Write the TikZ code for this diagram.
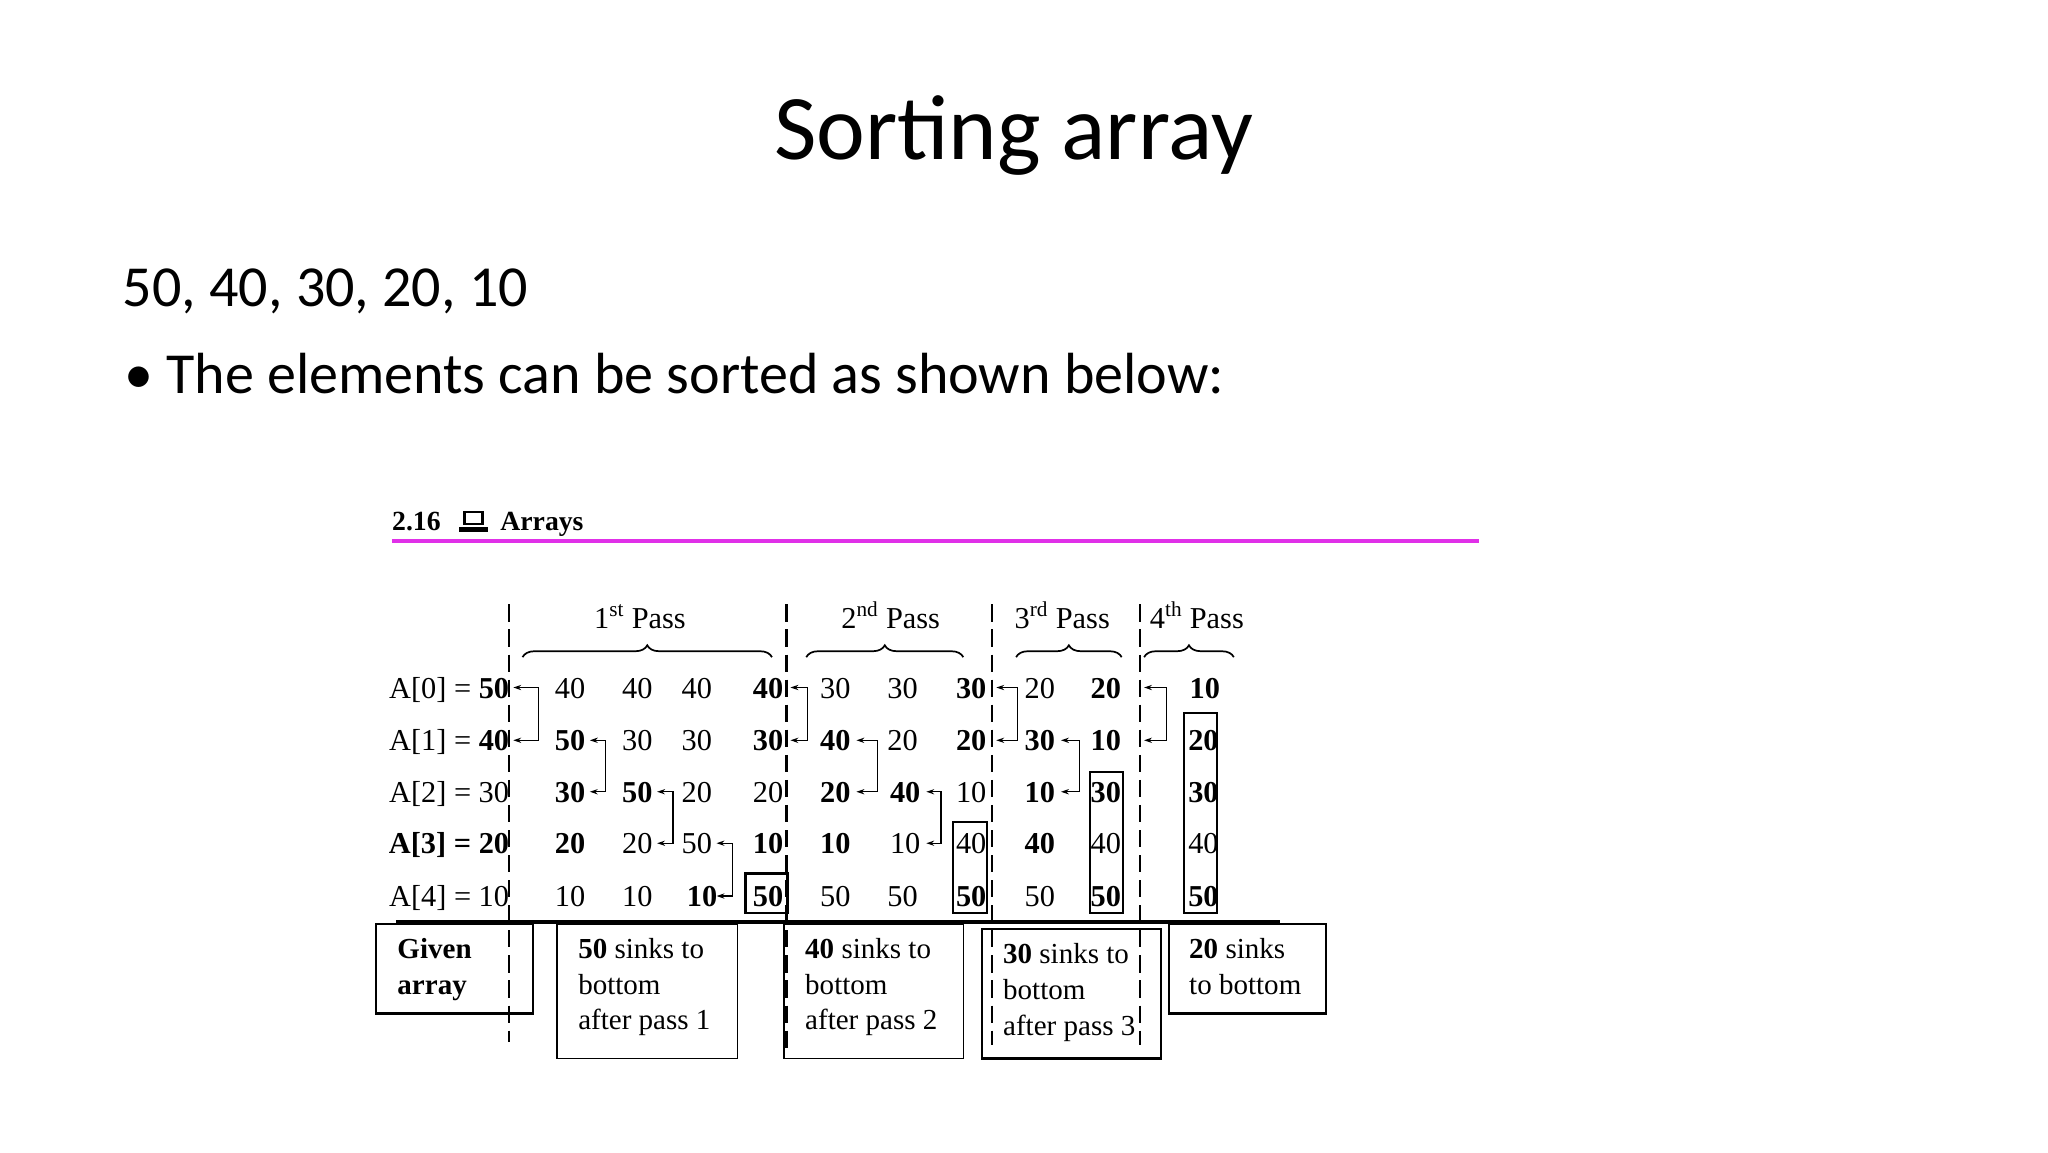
\documentclass[tikz,border=0pt]{standalone}
\usepackage{fontspec}
\setmainfont{Liberation Serif}
\newfontfamily\slidefont{Carlito}
\usetikzlibrary{arrows.meta,decorations.pathreplacing}
\definecolor{mag}{HTML}{E030E8}
\begin{document}
\begin{tikzpicture}[x=1pt,y=-1pt,
  num/.style={font=\fontsize{23}{23}\selectfont,inner sep=0pt,anchor=base},
  lab/.style={font=\fontsize{23}{23}\selectfont,inner sep=0pt,anchor=base east},
  dsh/.style={line width=1.6pt,dash pattern=on 13pt off 6pt},
  sw/.style={line width=1pt,{Stealth[length=6pt,width=4pt]}-{Stealth[length=6pt,width=4pt]}},
  bx/.style={draw,line width=1.2pt},
  brc/.style={decorate,decoration={brace,amplitude=9pt},line width=1.3pt},
  desc/.style={font=\fontsize{22}{27}\selectfont,align=left,anchor=north west,inner sep=0pt}]
\useasboundingbox (0,0) rectangle (1552,873);
% slide text
\node[font=\slidefont\fontsize{70}{70}\selectfont,inner sep=0pt] (title) at (768,103) {Sorting array};
\node[font=\slidefont\fontsize{44}{44}\selectfont,anchor=base west,inner sep=0pt] (seq) at (93,232) {50, 40, 30, 20, 10};
\node[font=\slidefont\fontsize{44}{44}\selectfont,anchor=base west,inner sep=0pt] (bul) at (94,298) {\textbullet\ The elements can be sorted as shown below:};
% header
\node[font=\bfseries\fontsize{21}{21}\selectfont,anchor=base west,inner sep=0pt] (h1) at (297,402) {2.16};
\node[font=\bfseries\fontsize{21}{21}\selectfont,anchor=base west,inner sep=0pt] (h2) at (379,402) {Arrays};
\fill (351,387) rectangle (367,398);
\fill[white] (353.5,389) rectangle (364.5,396);
\fill (348,399.5) rectangle (370,403);
\draw[mag,line width=3pt] (297,410) -- (1121,410);
% dashed separators
\draw[dsh] (386,458) -- (386,790);
\draw[dsh] (596,458) -- (596,800);
\draw[dsh] (752,458) -- (752,792);
\draw[dsh] (864,458) -- (864,792);
% pass labels and braces
\node[num] (p1) at (485,476) {1\textsuperscript{st} Pass};
\node[num] (p2) at (675,476) {2\textsuperscript{nd} Pass};
\node[num] (p3) at (805,476) {3\textsuperscript{rd} Pass};
\node[num] (p4) at (907,476) {4\textsuperscript{th} Pass};
\draw[brc] (396,498) -- (585,498);
\draw[brc] (611,498) -- (730,498);
\draw[brc] (770,498) -- (850,498);
\draw[brc] (867,498) -- (935,498);
% row labels
\def\ya{529}\def\yb{569}\def\yc{608}\def\yd{647}\def\ye{687}
\node[lab] (l0) at (386,\ya) {A[0] = \textbf{50}};
\node[lab] (l1) at (386,\yb) {A[1] = \textbf{40}};
\node[lab] (l2) at (386,\yc) {A[2] = 30};
\node[lab] (l3) at (386,\yd) {\textbf{A[3] = 20}};
\node[lab] (l4) at (386,\ye) {A[4] = 10};
% pass 1
\node[num] at (432,\ya) {40}; \node[num] at (483,\ya) {40}; \node[num] at (528,\ya) {40}; \node[num] at (582,\ya) {\textbf{40}};
\node[num] at (432,\yb) {\textbf{50}}; \node[num] at (483,\yb) {30}; \node[num] at (528,\yb) {30}; \node[num] at (582,\yb) {\textbf{30}};
\node[num] at (432,\yc) {\textbf{30}}; \node[num] at (483,\yc) {\textbf{50}}; \node[num] at (528,\yc) {20}; \node[num] at (582,\yc) {20};
\node[num] at (432,\yd) {\textbf{20}}; \node[num] at (483,\yd) {20}; \node[num] at (528,\yd) {50}; \node[num] at (582,\yd) {\textbf{10}};
\node[num] at (432,\ye) {10}; \node[num] at (483,\ye) {10}; \node[num] at (532,\ye) {\textbf{10}}; \node[num] at (582,\ye) {\textbf{50}};
% pass 2
\node[num] at (633,\ya) {30}; \node[num] at (684,\ya) {30}; \node[num] at (736,\ya) {\textbf{30}};
\node[num] at (633,\yb) {\textbf{40}}; \node[num] at (684,\yb) {20}; \node[num] at (736,\yb) {\textbf{20}};
\node[num] at (633,\yc) {\textbf{20}}; \node[num] at (686,\yc) {\textbf{40}}; \node[num] at (736,\yc) {10};
\node[num] at (633,\yd) {\textbf{10}}; \node[num] at (686,\yd) {10}; \node[num] at (736,\yd) {40};
\node[num] at (633,\ye) {50}; \node[num] at (684,\ye) {50}; \node[num] at (736,\ye) {\textbf{50}};
% pass 3
\node[num] at (788,\ya) {20}; \node[num] at (838,\ya) {\textbf{20}};
\node[num] at (788,\yb) {\textbf{30}}; \node[num] at (838,\yb) {\textbf{10}};
\node[num] at (788,\yc) {\textbf{10}}; \node[num] at (838,\yc) {\textbf{30}};
\node[num] at (788,\yd) {\textbf{40}}; \node[num] at (838,\yd) {40};
\node[num] at (788,\ye) {50}; \node[num] at (838,\ye) {\textbf{50}};
% pass 4
\node[num] at (913,\ya) {\textbf{10}};
\node[num] at (912,\yb) {\textbf{20}};
\node[num] at (912,\yc) {\textbf{30}};
\node[num] at (912,\yd) {40};
\node[num] at (912,\ye) {\textbf{50}};
% swap arrows
\newcommand\swapar[4]{\draw[sw] (#1,#3) -- (#2,#3) -- (#2,#4) -- (#1,#4);}
\swapar{389}{408}{521}{561}
\swapar{447}{459}{561}{600}
\swapar{498}{510}{600}{639}
\swapar{543}{555}{639}{679}
\swapar{599}{612}{521}{561}
\swapar{649}{665}{561}{600}
\swapar{702}{713}{600}{639}
\swapar{755}{771}{521}{561}
\swapar{804}{818}{561}{600}
\swapar{867}{884}{521}{561}
% result boxes
\draw[line width=2pt] (565,662) rectangle (597,692);
\draw[line width=1.3pt] (722,623) rectangle (748,692);
\draw[line width=1.3pt] (826,585) rectangle (851,692);
\draw[line width=1.5pt] (897,540) rectangle (922,692);
% base line
\draw[line width=3pt] (300,699) -- (970,699);
% bottom boxes
\draw[bx,line width=1.8pt] (285,700) rectangle (404,768);
\draw[bx] (422,700) rectangle (559,802);
\draw[bx] (594,700) rectangle (730,802);
\draw[bx,line width=1.8pt] (744,704) rectangle (880,802);
\draw[bx,line width=1.8pt] (886,700) rectangle (1005,768);
\node[desc,font=\bfseries\fontsize{22}{27}\selectfont] (d0) at (301,711) {Given\\array};
\node[desc] (d1) at (438,711) {\textbf{50} sinks to\\bottom\\after pass 1};
\node[desc] (d2) at (610,711) {\textbf{40} sinks to\\bottom\\after pass 2};
\node[desc] (d3) at (760,715) {\textbf{30} sinks to\\bottom\\after pass 3};
\node[desc] (d4) at (901,711) {\textbf{20} sinks\\to bottom};
\end{tikzpicture}
\end{document}
